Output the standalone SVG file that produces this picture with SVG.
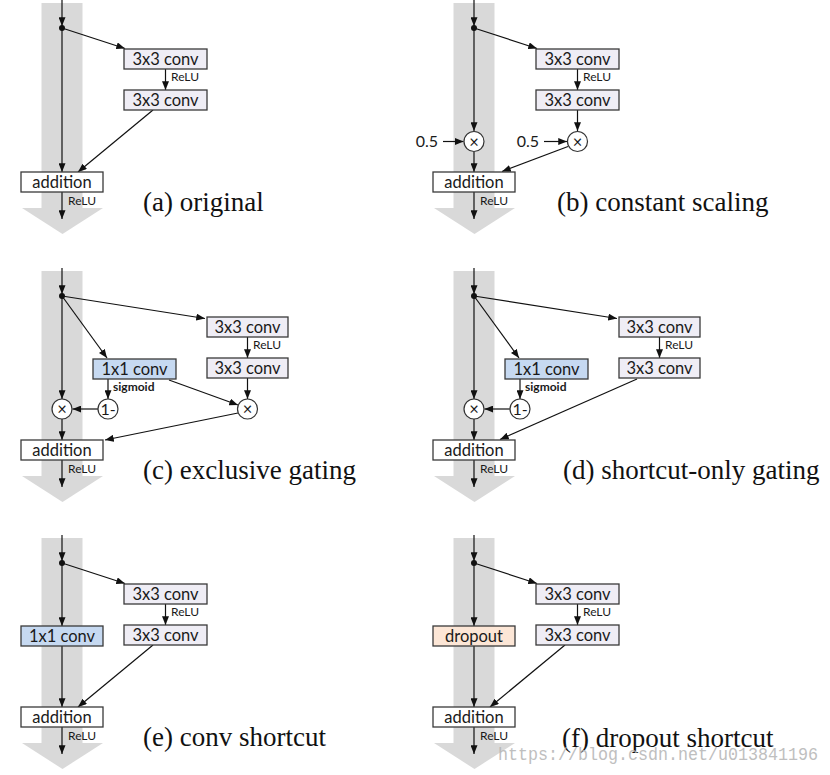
<svg xmlns="http://www.w3.org/2000/svg" width="830" height="775" viewBox="0 0 830 775">
<style>
.bar{fill:#d9d9d9}
.box{stroke:#3a3a3a;stroke-width:1.3}
.conv{fill:#efedf5}
.blue{fill:#c6d9f1}
.peach{fill:#fce6d6}
.add{fill:#ffffff}
.t{font-family:Lato,"Open Sans",sans-serif;font-size:16.5px;fill:#1a1a1a;text-anchor:middle}
.s{font-family:Lato,"Open Sans",sans-serif;font-size:12px;fill:#1a1a1a}
.sb{font-family:Lato,"Open Sans",sans-serif;font-size:12px;font-weight:bold;fill:#1a1a1a}
.num{font-family:Lato,"Open Sans",sans-serif;font-size:16px;fill:#1a1a1a}
.cap{font-family:'Liberation Serif', 'DejaVu Serif', serif;font-size:27px;fill:#111}
.op{fill:#ffffff;stroke:#333;stroke-width:1.2}
.c path{stroke:#111;stroke-width:1.2;fill:none;marker-end:url(#arr)}
.dot{fill:#111}
.wm{font-family:'Liberation Mono', monospace;font-size:18px;fill:#b4b4b4;opacity:0.85}
</style>
<defs>
<marker id="arr" viewBox="0 0 10 8" refX="10" refY="4" markerWidth="9" markerHeight="7" markerUnits="userSpaceOnUse" orient="auto">
<path d="M0,0 L10,4 L0,8 z" fill="#111"/>
</marker>
</defs>

<!-- background gray flow bars -->
<g id="bars">
<g transform="translate(0,0)"><rect class="bar" x="41.5" y="3" width="41" height="205"/><polygon class="bar" points="22,208 103,208 62.5,234"/></g>
<g transform="translate(412,0)"><rect class="bar" x="41.5" y="3" width="41" height="205"/><polygon class="bar" points="22,208 103,208 62.5,234"/></g>
<g transform="translate(0,268)"><rect class="bar" x="41.5" y="3" width="41" height="205"/><polygon class="bar" points="22,208 103,208 62.5,234"/></g>
<g transform="translate(412,268)"><rect class="bar" x="41.5" y="3" width="41" height="205"/><polygon class="bar" points="22,208 103,208 62.5,234"/></g>
<g transform="translate(0,535)"><rect class="bar" x="41.5" y="3" width="41" height="205"/><polygon class="bar" points="22,208 103,208 62.5,234"/></g>
<g transform="translate(412,535)"><rect class="bar" x="41.5" y="3" width="41" height="205"/><polygon class="bar" points="22,208 103,208 62.5,234"/></g>
</g>

<!-- connectors -->
<g id="connectors" class="c">
<g id="conn-a" transform="translate(0,0)">
<path d="M62,0 V26"/><path d="M62,28 L125,48.5"/><path d="M165.5,69 V90"/><path d="M153,110 L78,172"/><path d="M62,28 V172"/><path d="M62,192 V219"/>
</g>
<g id="conn-b" transform="translate(412,0)">
<path d="M62,0 V26"/><path d="M62,28 L125,48.5"/><path d="M165.5,69 V90"/><path d="M165.5,110 V131"/><path d="M62,28 V131"/><path d="M62,152 V172"/><path d="M31,141.5 H51.5"/><path d="M132,141.5 H155"/><path d="M156,146.5 L90,171.5"/><path d="M62,192 V219"/>
</g>
<g id="conn-c" transform="translate(0,268)">
<path d="M62,0 V26"/><path d="M62,28 L205,50.5"/><path d="M62,28 L107,90"/><path d="M247.5,69 V90"/><path d="M247.5,110 V131"/><path d="M108,111 V131"/><path d="M98,141 H72.5"/><path d="M62,28 V131"/><path d="M62,151 V172"/><path d="M169,112 L238,137"/><path d="M238,145 L105,172"/><path d="M62,192 V219"/>
</g>
<g id="conn-d" transform="translate(412,268)">
<path d="M62,0 V26"/><path d="M62,28 L205,50.5"/><path d="M62,28 L107,90"/><path d="M247.5,69 V90"/><path d="M108,111 V131"/><path d="M98,141 H72.5"/><path d="M62,28 V131"/><path d="M62,151 V172"/><path d="M225,111 L88,171.5"/><path d="M62,192 V219"/>
</g>
<g id="conn-e" transform="translate(0,535)">
<path d="M62,0 V26"/><path d="M62,28 L125,48.5"/><path d="M165.5,69 V90"/><path d="M153,110 L78,172"/><path d="M62,28 V91"/><path d="M62,111 V172"/><path d="M62,192 V219"/>
</g>
<g id="conn-f" transform="translate(412,535)">
<path d="M62,0 V26"/><path d="M62,28 L125,48.5"/><path d="M165.5,69 V90"/><path d="M153,110 L78,172"/><path d="M62,28 V91"/><path d="M62,111 V172"/><path d="M62,192 V219"/>
</g>
</g>

<!-- panel (a) -->
<g id="panel-a" transform="translate(0,0)">
<g id="a-split"><circle class="dot" cx="62" cy="28" r="3"/></g>
<g id="a-conv1"><rect class="box conv" x="124" y="49" width="83" height="20"/><text class="t" x="165.5" y="65">3x3 conv</text></g>
<g id="a-relu1"><text class="s" x="171" y="81">ReLU</text></g>
<g id="a-conv2"><rect class="box conv" x="124" y="90" width="83" height="20"/><text class="t" x="165.5" y="106">3x3 conv</text></g>
<g id="a-addition"><rect class="box add" x="21" y="172" width="82" height="20"/><text class="t" x="62" y="188">addition</text></g>
<g id="a-relu2"><text class="s" x="68" y="205">ReLU</text></g>
<g id="a-caption"><text class="cap" font-family="Liberation Serif, serif" x="143" y="211">(a) original</text></g>
</g>

<!-- panel (b) -->
<g id="panel-b" transform="translate(412,0)">
<g id="b-split"><circle class="dot" cx="62" cy="28" r="3"/></g>
<g id="b-conv1"><rect class="box conv" x="124" y="49" width="83" height="20"/><text class="t" x="165.5" y="65">3x3 conv</text></g>
<g id="b-relu1"><text class="s" x="171" y="81">ReLU</text></g>
<g id="b-conv2"><rect class="box conv" x="124" y="90" width="83" height="20"/><text class="t" x="165.5" y="106">3x3 conv</text></g>
<g id="b-scale1-label"><text class="num" x="26" y="147" text-anchor="end">0.5</text></g>
<g id="b-mul1"><circle class="op" cx="62" cy="141.5" r="10"/><text class="t" x="62" y="147.5">×</text></g>
<g id="b-scale2-label"><text class="num" x="127" y="147" text-anchor="end">0.5</text></g>
<g id="b-mul2"><circle class="op" cx="165.5" cy="141.5" r="10"/><text class="t" x="165.5" y="147.5">×</text></g>
<g id="b-addition"><rect class="box add" x="21" y="172" width="82" height="20"/><text class="t" x="62" y="188">addition</text></g>
<g id="b-relu2"><text class="s" x="68" y="205">ReLU</text></g>
<g id="b-caption"><text class="cap" x="145" y="211">(b) constant scaling</text></g>
</g>

<!-- panel (c) -->
<g id="panel-c" transform="translate(0,268)">
<g id="c-split"><circle class="dot" cx="62" cy="28" r="3"/></g>
<g id="c-conv1"><rect class="box conv" x="207" y="49" width="81" height="20"/><text class="t" x="247.5" y="65">3x3 conv</text></g>
<g id="c-relu1"><text class="s" x="253" y="81">ReLU</text></g>
<g id="c-conv2"><rect class="box conv" x="207" y="90" width="81" height="20"/><text class="t" x="247.5" y="106">3x3 conv</text></g>
<g id="c-gate"><rect class="box blue" x="93" y="91" width="83" height="20"/><text class="t" x="134.5" y="107">1x1 conv</text></g>
<g id="c-sigmoid"><text class="sb" x="113" y="123">sigmoid</text></g>
<g id="c-oneminus"><circle class="op" cx="108" cy="141" r="10"/><text class="num" x="108" y="146.5" text-anchor="middle">1-</text></g>
<g id="c-mul1"><circle class="op" cx="62" cy="141" r="10"/><text class="t" x="62" y="147">×</text></g>
<g id="c-mul2"><circle class="op" cx="247.5" cy="141" r="10"/><text class="t" x="247.5" y="147">×</text></g>
<g id="c-addition"><rect class="box add" x="21" y="172" width="82" height="20"/><text class="t" x="62" y="188">addition</text></g>
<g id="c-relu2"><text class="s" x="68" y="205">ReLU</text></g>
<g id="c-caption"><text class="cap" x="143" y="211">(c) exclusive gating</text></g>
</g>

<!-- panel (d) -->
<g id="panel-d" transform="translate(412,268)">
<g id="d-split"><circle class="dot" cx="62" cy="28" r="3"/></g>
<g id="d-conv1"><rect class="box conv" x="207" y="49" width="81" height="20"/><text class="t" x="247.5" y="65">3x3 conv</text></g>
<g id="d-relu1"><text class="s" x="253" y="81">ReLU</text></g>
<g id="d-conv2"><rect class="box conv" x="207" y="90" width="81" height="20"/><text class="t" x="247.5" y="106">3x3 conv</text></g>
<g id="d-gate"><rect class="box blue" x="93" y="91" width="83" height="20"/><text class="t" x="134.5" y="107">1x1 conv</text></g>
<g id="d-sigmoid"><text class="sb" x="113" y="123">sigmoid</text></g>
<g id="d-oneminus"><circle class="op" cx="108" cy="141" r="10"/><text class="num" x="108" y="146.5" text-anchor="middle">1-</text></g>
<g id="d-mul1"><circle class="op" cx="62" cy="141" r="10"/><text class="t" x="62" y="147">×</text></g>
<g id="d-addition"><rect class="box add" x="21" y="172" width="82" height="20"/><text class="t" x="62" y="188">addition</text></g>
<g id="d-relu2"><text class="s" x="68" y="205">ReLU</text></g>
<g id="d-caption"><text class="cap" x="151" y="211">(d) shortcut-only gating</text></g>
</g>

<!-- panel (e) -->
<g id="panel-e" transform="translate(0,535)">
<g id="e-split"><circle class="dot" cx="62" cy="28" r="3"/></g>
<g id="e-conv1"><rect class="box conv" x="124" y="49" width="83" height="20"/><text class="t" x="165.5" y="65">3x3 conv</text></g>
<g id="e-relu1"><text class="s" x="171" y="81">ReLU</text></g>
<g id="e-conv2"><rect class="box conv" x="124" y="90" width="83" height="20"/><text class="t" x="165.5" y="106">3x3 conv</text></g>
<g id="e-shortconv"><rect class="box blue" x="21" y="91" width="82" height="20"/><text class="t" x="62" y="107">1x1 conv</text></g>
<g id="e-addition"><rect class="box add" x="21" y="172" width="82" height="20"/><text class="t" x="62" y="188">addition</text></g>
<g id="e-relu2"><text class="s" x="68" y="205">ReLU</text></g>
<g id="e-caption"><text class="cap" x="143" y="211">(e) conv shortcut</text></g>
</g>

<!-- panel (f) -->
<g id="panel-f" transform="translate(412,535)">
<g id="f-split"><circle class="dot" cx="62" cy="28" r="3"/></g>
<g id="f-conv1"><rect class="box conv" x="124" y="49" width="83" height="20"/><text class="t" x="165.5" y="65">3x3 conv</text></g>
<g id="f-relu1"><text class="s" x="171" y="81">ReLU</text></g>
<g id="f-conv2"><rect class="box conv" x="124" y="90" width="83" height="20"/><text class="t" x="165.5" y="106">3x3 conv</text></g>
<g id="f-dropout"><rect class="box peach" x="21" y="91" width="82" height="20"/><text class="t" x="62" y="107">dropout</text></g>
<g id="f-addition"><rect class="box add" x="21" y="172" width="82" height="20"/><text class="t" x="62" y="188">addition</text></g>
<g id="f-relu2"><text class="s" x="68" y="205">ReLU</text></g>
<g id="f-caption"><text class="cap" x="150" y="212">(f) dropout shortcut</text></g>
</g>

<text class="wm" x="498" y="760" textLength="320" lengthAdjust="spacingAndGlyphs">https://blog.csdn.net/u013841196</text>
</svg>
